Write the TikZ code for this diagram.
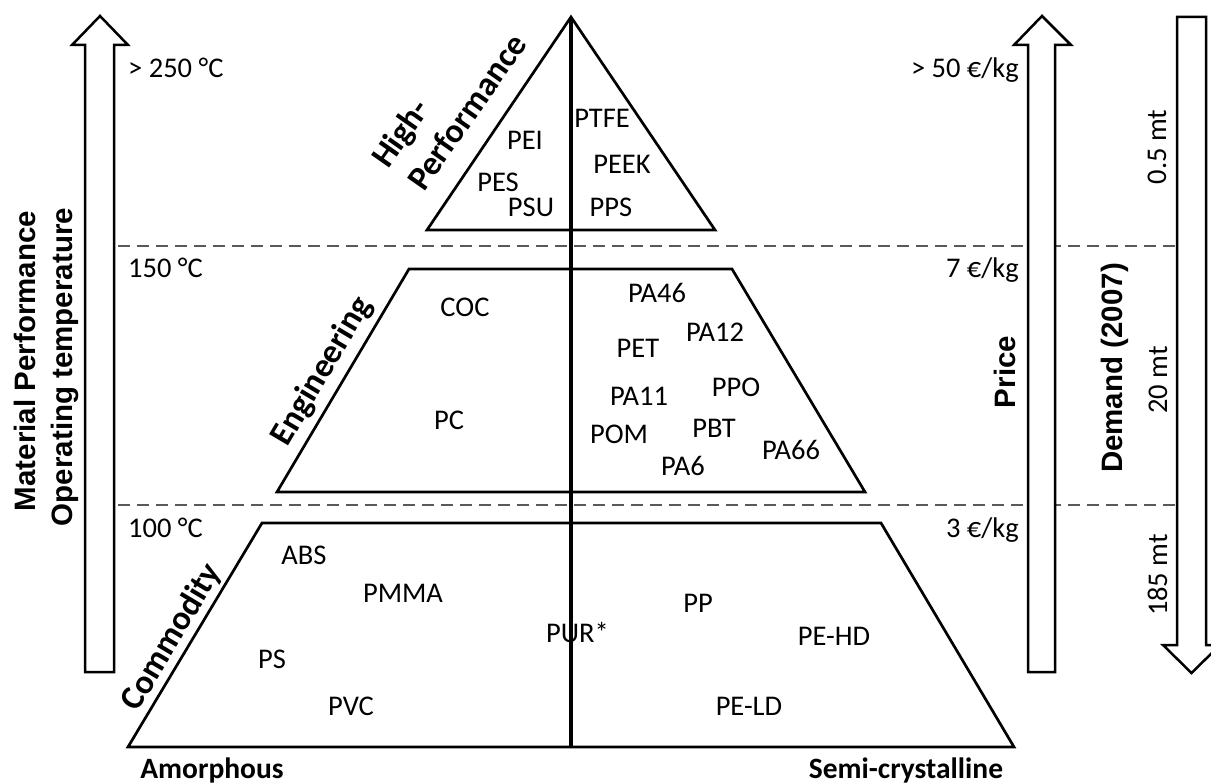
\documentclass[tikz,border=0pt]{standalone}
\usepackage{fontspec}
\setmainfont{Carlito}
\newfontfamily\arialfont{Liberation Sans}
\begin{document}
\begin{tikzpicture}[x=1pt,y=-1pt,
  outline/.style={line width=2.7pt, line join=miter},
  bigarrow/.style={line width=2.5pt, fill=white, line join=miter},
  sepline/.style={line width=1.4pt, draw=black!65, dash pattern=on 12pt off 7pt},
  polylab/.style={font=\fontsize{28.5}{34}\selectfont, inner sep=0pt, anchor=base},
  rotlab/.style={font=\fontsize{28.5}{34}\selectfont, inner sep=0pt, anchor=base, rotate=90},
  classlab/.style={font=\fontsize{34}{40}\selectfont\bfseries, inner sep=0pt},
  axislab/.style={font=\arialfont\bfseries\fontsize{29.5}{35}\selectfont, inner sep=0pt, anchor=base, rotate=90},
  tlab/.style={font=\fontsize{28.5}{34}\selectfont, inner sep=0pt},
  footlab/.style={font=\fontsize{29.5}{35}\selectfont\bfseries, inner sep=0pt, anchor=base}]
\useasboundingbox (0,0) rectangle (1211,783);
\clip (0,0) rectangle (1211,783);
% separators
\draw[sepline] (118,246) -- (1177,246);
\draw[sepline] (118,505) -- (1177,505);
% big arrows
\draw[bigarrow] (85,672) -- (85,45) -- (72,45) -- (100,16) -- (128,45) -- (114,45) -- (114,672) -- cycle;
\draw[bigarrow] (1028,672) -- (1028,45) -- (1014,45) -- (1042,16) -- (1071,45) -- (1055,45) -- (1055,672) -- cycle;
\draw[bigarrow] (1177,17) -- (1177,645) -- (1163,645) -- (1191.5,673) -- (1220,645) -- (1206,645) -- (1206,17) -- cycle;
% pyramid
\draw[outline] (571,17) -- (715,230) -- (427,230) -- cycle;
\draw[outline] (409,269) -- (732,269) -- (865,492) -- (277,492) -- cycle;
\draw[outline] (262,523) -- (881,523) -- (1014,747) -- (128,747) -- cycle;
\draw[line width=3.8pt] (571,17) -- (571,747);
% class labels
\node[classlab, anchor=base west, rotate=55] (hp1) at (388,170) {High-};
\node[classlab, anchor=base west, rotate=55] (hp2) at (424,193) {Performance};
\node[classlab, anchor=base, rotate=59.4] (eng) at (330,376) {Engineering};
\node[classlab, anchor=base, rotate=59.1] (com) at (180,642) {Commodity};
% high performance
\node[polylab] (pei) at (525,150) {PEI};
\node[polylab] (pes) at (498,192) {PES};
\node[polylab] (psu) at (531,217) {PSU};
\node[polylab] (ptfe) at (602,128) {PTFE};
\node[polylab] (peek) at (622,174) {PEEK};
\node[polylab] (pps) at (611,217) {PPS};
% engineering
\node[polylab] (coc) at (465,317) {COC};
\node[polylab] (pc) at (449,430) {PC};
\node[polylab] (pa46) at (657,303) {PA46};
\node[polylab] (pa12) at (715,342) {PA12};
\node[polylab] (pet) at (638,358) {PET};
\node[polylab] (ppo) at (736,397) {PPO};
\node[polylab] (pa11) at (639,406) {PA11};
\node[polylab] (pbt) at (714,438) {PBT};
\node[polylab] (pom) at (619,444) {POM};
\node[polylab] (pa66) at (791,460) {PA66};
\node[polylab] (pa6) at (683,476) {PA6};
% commodity
\node[polylab] (abs) at (304,565) {ABS};
\node[polylab] (pmma) at (403,602) {PMMA};
\node[polylab] (ps) at (272,668) {PS};
\node[polylab] (pvc) at (351,715) {PVC};
\node[polylab, anchor=base west] (pur) at (546,642) {PUR*};
\node[polylab] (pp) at (698,612) {PP};
\node[polylab] (pehd) at (834,645) {PE-HD};
\node[polylab] (peld) at (749,715) {PE-LD};
% temperatures
\node[tlab, anchor=base west] (t250) at (128,78) {> 250 °C};
\node[tlab, anchor=base west] (t150) at (128,278) {150 °C};
\node[tlab, anchor=base west] (t100) at (128,537) {100 °C};
% prices
\node[tlab, anchor=base east] (p50) at (1019,78) {> 50 €/kg};
\node[tlab, anchor=base east] (p7) at (1019,278) {7 €/kg};
\node[tlab, anchor=base east] (p3) at (1019,537) {3 €/kg};
% demand amounts
\node[rotlab] (d05) at (1166,147) {0.5 mt};
\node[rotlab] (d20) at (1167,380) {20 mt};
\node[rotlab] (d185) at (1167,575) {185 mt};
% axis labels
\node[axislab] (mp1) at (35,361) {Material Performance};
\node[axislab] (mp2) at (72,367) {Operating temperature};
\node[axislab] (price) at (1015,372) {Price};
\node[axislab] (demand) at (1122,368) {Demand (2007)};
% bottom labels
\node[footlab] (amo) at (212,778) {Amorphous};
\node[footlab] (semi) at (906,778) {Semi-crystalline};
\end{tikzpicture}
\end{document}
